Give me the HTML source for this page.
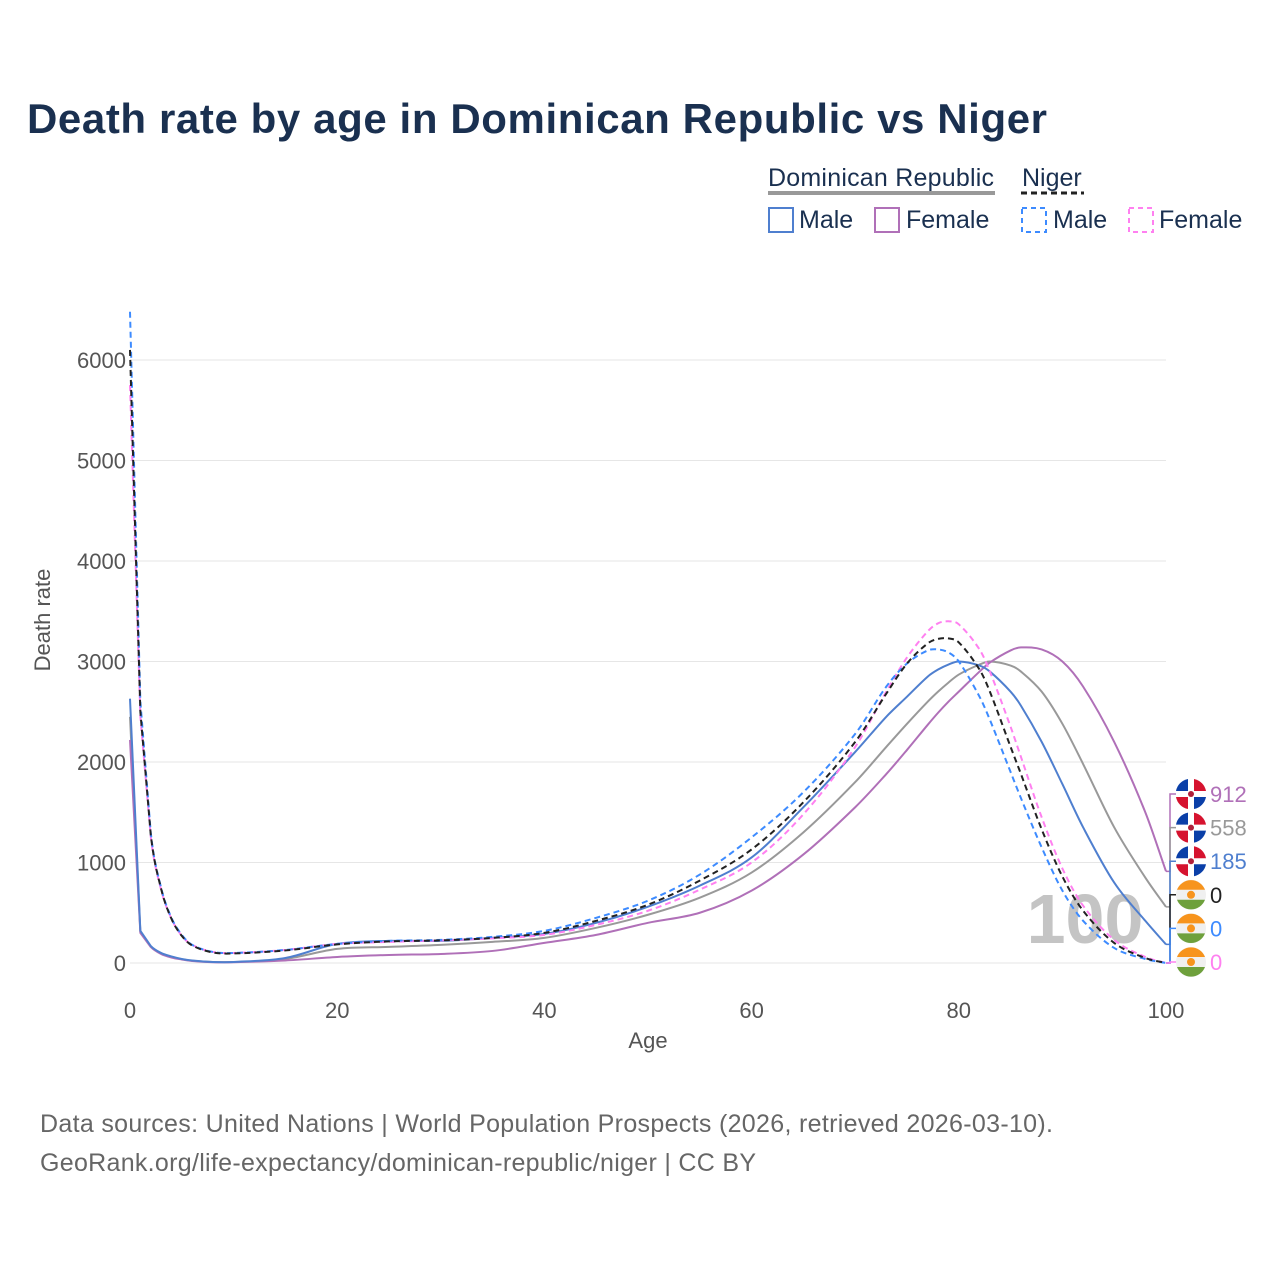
<!DOCTYPE html>
<html><head><meta charset="utf-8"><style>
body{margin:0;background:#fff;width:1280px;height:1280px;overflow:hidden;font-family:"Liberation Sans",sans-serif}
svg text{font-family:"Liberation Sans",sans-serif}
</style></head><body>
<svg id="c" width="1280" height="1280" xmlns="http://www.w3.org/2000/svg">
<text x="27" y="133" font-size="42" font-weight="bold" fill="#1a3050" textLength="1020">Death rate by age in Dominican Republic vs Niger</text>
<g>
<text x="768" y="186" font-size="25" fill="#1a3050" textLength="226">Dominican Republic</text>
<line x1="768" y1="193" x2="995" y2="193" stroke="#999" stroke-width="4"/>
<text x="1022" y="186" font-size="25" fill="#1a3050">Niger</text>
<line x1="1021" y1="193" x2="1084" y2="193" stroke="#222" stroke-width="3" stroke-dasharray="6,4"/>
<rect x="769" y="208" width="24" height="24" fill="none" stroke="#4f7fcf" stroke-width="2"/>
<text x="799" y="228" font-size="25" fill="#1a3050">Male</text>
<rect x="875" y="208" width="24" height="24" fill="none" stroke="#b070b8" stroke-width="2"/>
<text x="906" y="228" font-size="25" fill="#1a3050">Female</text>
<rect x="1022" y="208" width="24" height="24" fill="none" stroke="#3d8bff" stroke-width="2" stroke-dasharray="5,4"/>
<text x="1053" y="228" font-size="25" fill="#1a3050">Male</text>
<rect x="1129" y="208" width="24" height="24" fill="none" stroke="#ff80f0" stroke-width="2" stroke-dasharray="5,4"/>
<text x="1159" y="228" font-size="25" fill="#1a3050">Female</text>
</g>
<g id="grid"></g>
<text x="1085" y="943" font-size="70" font-weight="bold" fill="#c4c4c4" text-anchor="middle">100</text>
<g id="lines"></g>
<g id="ends"></g>
<text x="648" y="1048" font-size="22" fill="#555" text-anchor="middle">Age</text>
<text transform="translate(50,620) rotate(-90)" font-size="22" fill="#555" text-anchor="middle">Death rate</text>
<text x="40" y="1132" font-size="25" fill="#666" textLength="1013">Data sources: United Nations | World Population Prospects (2026, retrieved 2026-03-10).</text>
<text x="40" y="1171" font-size="25" fill="#666" textLength="716">GeoRank.org/life-expectancy/dominican-republic/niger | CC BY</text>
</svg>
<script>
const xTicks=[0,20,40,60,80,100];
const yTicks=[0,1000,2000,3000,4000,5000,6000];
const ages=[0,1,2,3,4,5,6,8,10,15,20,25,30,35,40,45,50,55,60,65,70,73,75,77,78,79,80,82,83,85,86,88,90,92,95,98,100];
const nigerMale=[6480,2600,1300,750,450,280,180,110,100,130,190,220,230,260,320,450,620,880,1250,1700,2280,2750,2980,3110,3120,3090,3000,2650,2420,1900,1640,1150,720,420,150,40,0];
const nigerTotal=[6100,2500,1280,740,440,270,175,105,95,125,185,215,225,250,300,420,580,820,1130,1600,2200,2680,2980,3180,3225,3230,3190,2920,2700,2150,1880,1330,860,520,200,50,0];
const nigerFemale=[5750,2450,1260,730,440,270,180,110,100,130,190,210,225,245,280,380,520,730,1000,1480,2150,2700,3040,3300,3380,3400,3370,3120,2900,2350,2050,1450,940,570,230,60,0];
const drMale=[2630,320,170,100,65,40,25,10,10,50,190,220,220,250,290,400,560,770,1050,1550,2100,2450,2650,2850,2920,2970,3000,2960,2900,2700,2560,2200,1780,1350,800,420,185];
const drTotal=[2450,310,165,95,60,38,22,10,10,40,140,160,180,210,250,350,480,650,900,1300,1800,2150,2380,2600,2700,2790,2870,2970,3000,2960,2900,2700,2380,1980,1350,850,558];
const drFemale=[2220,300,160,90,55,35,20,8,8,25,60,80,90,120,200,280,400,500,720,1080,1550,1880,2120,2370,2490,2600,2700,2900,2990,3110,3140,3120,3000,2750,2200,1500,912];
const endVals=[912,558,185,0,0,0];
const X=a=>130+a*10.36, Y=v=>963-v*0.1005;
const NS="http://www.w3.org/2000/svg";
const mk=(t,p,at)=>{const e=document.createElementNS(NS,t);for(const k in at)e.setAttribute(k,at[k]);p.appendChild(e);return e;};
const g=document.getElementById('grid');
yTicks.forEach(v=>{
 const l=mk('line',g,{x1:130,x2:1166,y1:Y(v),y2:Y(v),stroke:'#e6e6e6','stroke-width':1});
 
 
 const t=mk('text',g,{x:126,y:Y(v)+8,'font-size':22,fill:'#555','text-anchor':'end'});t.textContent=v;
 
 
});
xTicks.forEach(a=>{
 const t=mk('text',g,{x:X(a),y:1018,'font-size':22,fill:'#555','text-anchor':'middle'});t.textContent=a;
 
 
});
function path(vals){
 const p=ages.map((a,i)=>[X(a),Y(vals[i])]);
 const n=p.length;
 const m=p.map((q,i)=>{
  if(i<2)return null;
  const a=p[Math.max(i-1,0)],b=p[Math.min(i+1,n-1)];
  return (b[1]-a[1])/(b[0]-a[0]);
 });
 let d='M'+p[0][0]+','+p[0][1];
 for(let i=0;i<n-1;i++){
  const p1=p[i],p2=p[i+1];
  if(i<1||m[i]===null){d+=` L${p2[0]},${p2[1]}`;continue;}
  const dx=(p2[0]-p1[0])/3;
  const m2=m[i+1]===null?0:m[i+1];
  d+=` C${p1[0]+dx},${p1[1]+m[i]*dx} ${p2[0]-dx},${p2[1]-m2*dx} ${p2[0]},${p2[1]}`;
 }
 return d;
}
const L=document.getElementById('lines');
const series=[[drTotal,'#999',null,'dr-total-line'],[drFemale,'#b070b8',null,'dr-female-line'],[drMale,'#4f7fcf',null,'dr-male-line'],
 [nigerFemale,'#ff80f0','6,4','niger-female-line'],[nigerMale,'#3d8bff','6,4','niger-male-line'],[nigerTotal,'#222','6,4','niger-total-line']];
series.forEach(s=>{
 const at={d:path(s[0]),fill:'none',stroke:s[1],'stroke-width':2};
 if(s[2])at['stroke-dasharray']=s[2];
 const e=mk('path',L,at);
 
 
});
const E=document.getElementById('ends');
const endCols=['#b070b8','#999','#4f7fcf','#222','#3d8bff','#ff80f0'];
const endSrc=[drFemale,drTotal,drMale,nigerTotal,nigerMale,nigerFemale];
endVals.forEach((v,i)=>{
 const cy=794+i*33.6, col=endCols[i], yv=Y(endSrc[i][endSrc[i].length-1]);
 mk('polyline',E,{points:`${1166},${yv} 1170,${yv} 1170,${cy} 1176,${cy}`,fill:'none',stroke:col,'stroke-width':1.5});
 const cx=1191;
 const fg=mk('g',E,{});
 
 
 if(i<3){
  mk('circle',fg,{cx,cy,r:15,fill:'#fff'});
  mk('path',fg,{d:`M${cx-15},${cy-3}A15,15 0 0 1 ${cx-3},${cy-15}V${cy-3}Z`,fill:'#0a3fa8'});
  mk('path',fg,{d:`M${cx+3},${cy-15}A15,15 0 0 1 ${cx+15},${cy-3}H${cx+3}Z`,fill:'#d6132f'});
  mk('path',fg,{d:`M${cx-15},${cy+3}A15,15 0 0 0 ${cx-3},${cy+15}V${cy+3}Z`,fill:'#d6132f'});
  mk('path',fg,{d:`M${cx+3},${cy+15}A15,15 0 0 0 ${cx+15},${cy+3}H${cx+3}Z`,fill:'#0a3fa8'});
  mk('circle',fg,{cx,cy,r:3,fill:'#b0203a'});
 }else{
  mk('circle',fg,{cx,cy,r:15,fill:'#f0f0f0'});
  mk('path',fg,{d:`M${cx-14},${cy-5}A15,15 0 0 1 ${cx+14},${cy-5}Z`,fill:'#f7941d'});
  mk('path',fg,{d:`M${cx-14},${cy+5}A15,15 0 0 0 ${cx+14},${cy+5}Z`,fill:'#6ea03c'});
  mk('circle',fg,{cx,cy,r:4,fill:'#f7941d'});
 }
 const t=mk('text',E,{x:1210,y:cy+8,'font-size':22,fill:col});t.textContent=v;
 
 
});
</script>
</body></html>
